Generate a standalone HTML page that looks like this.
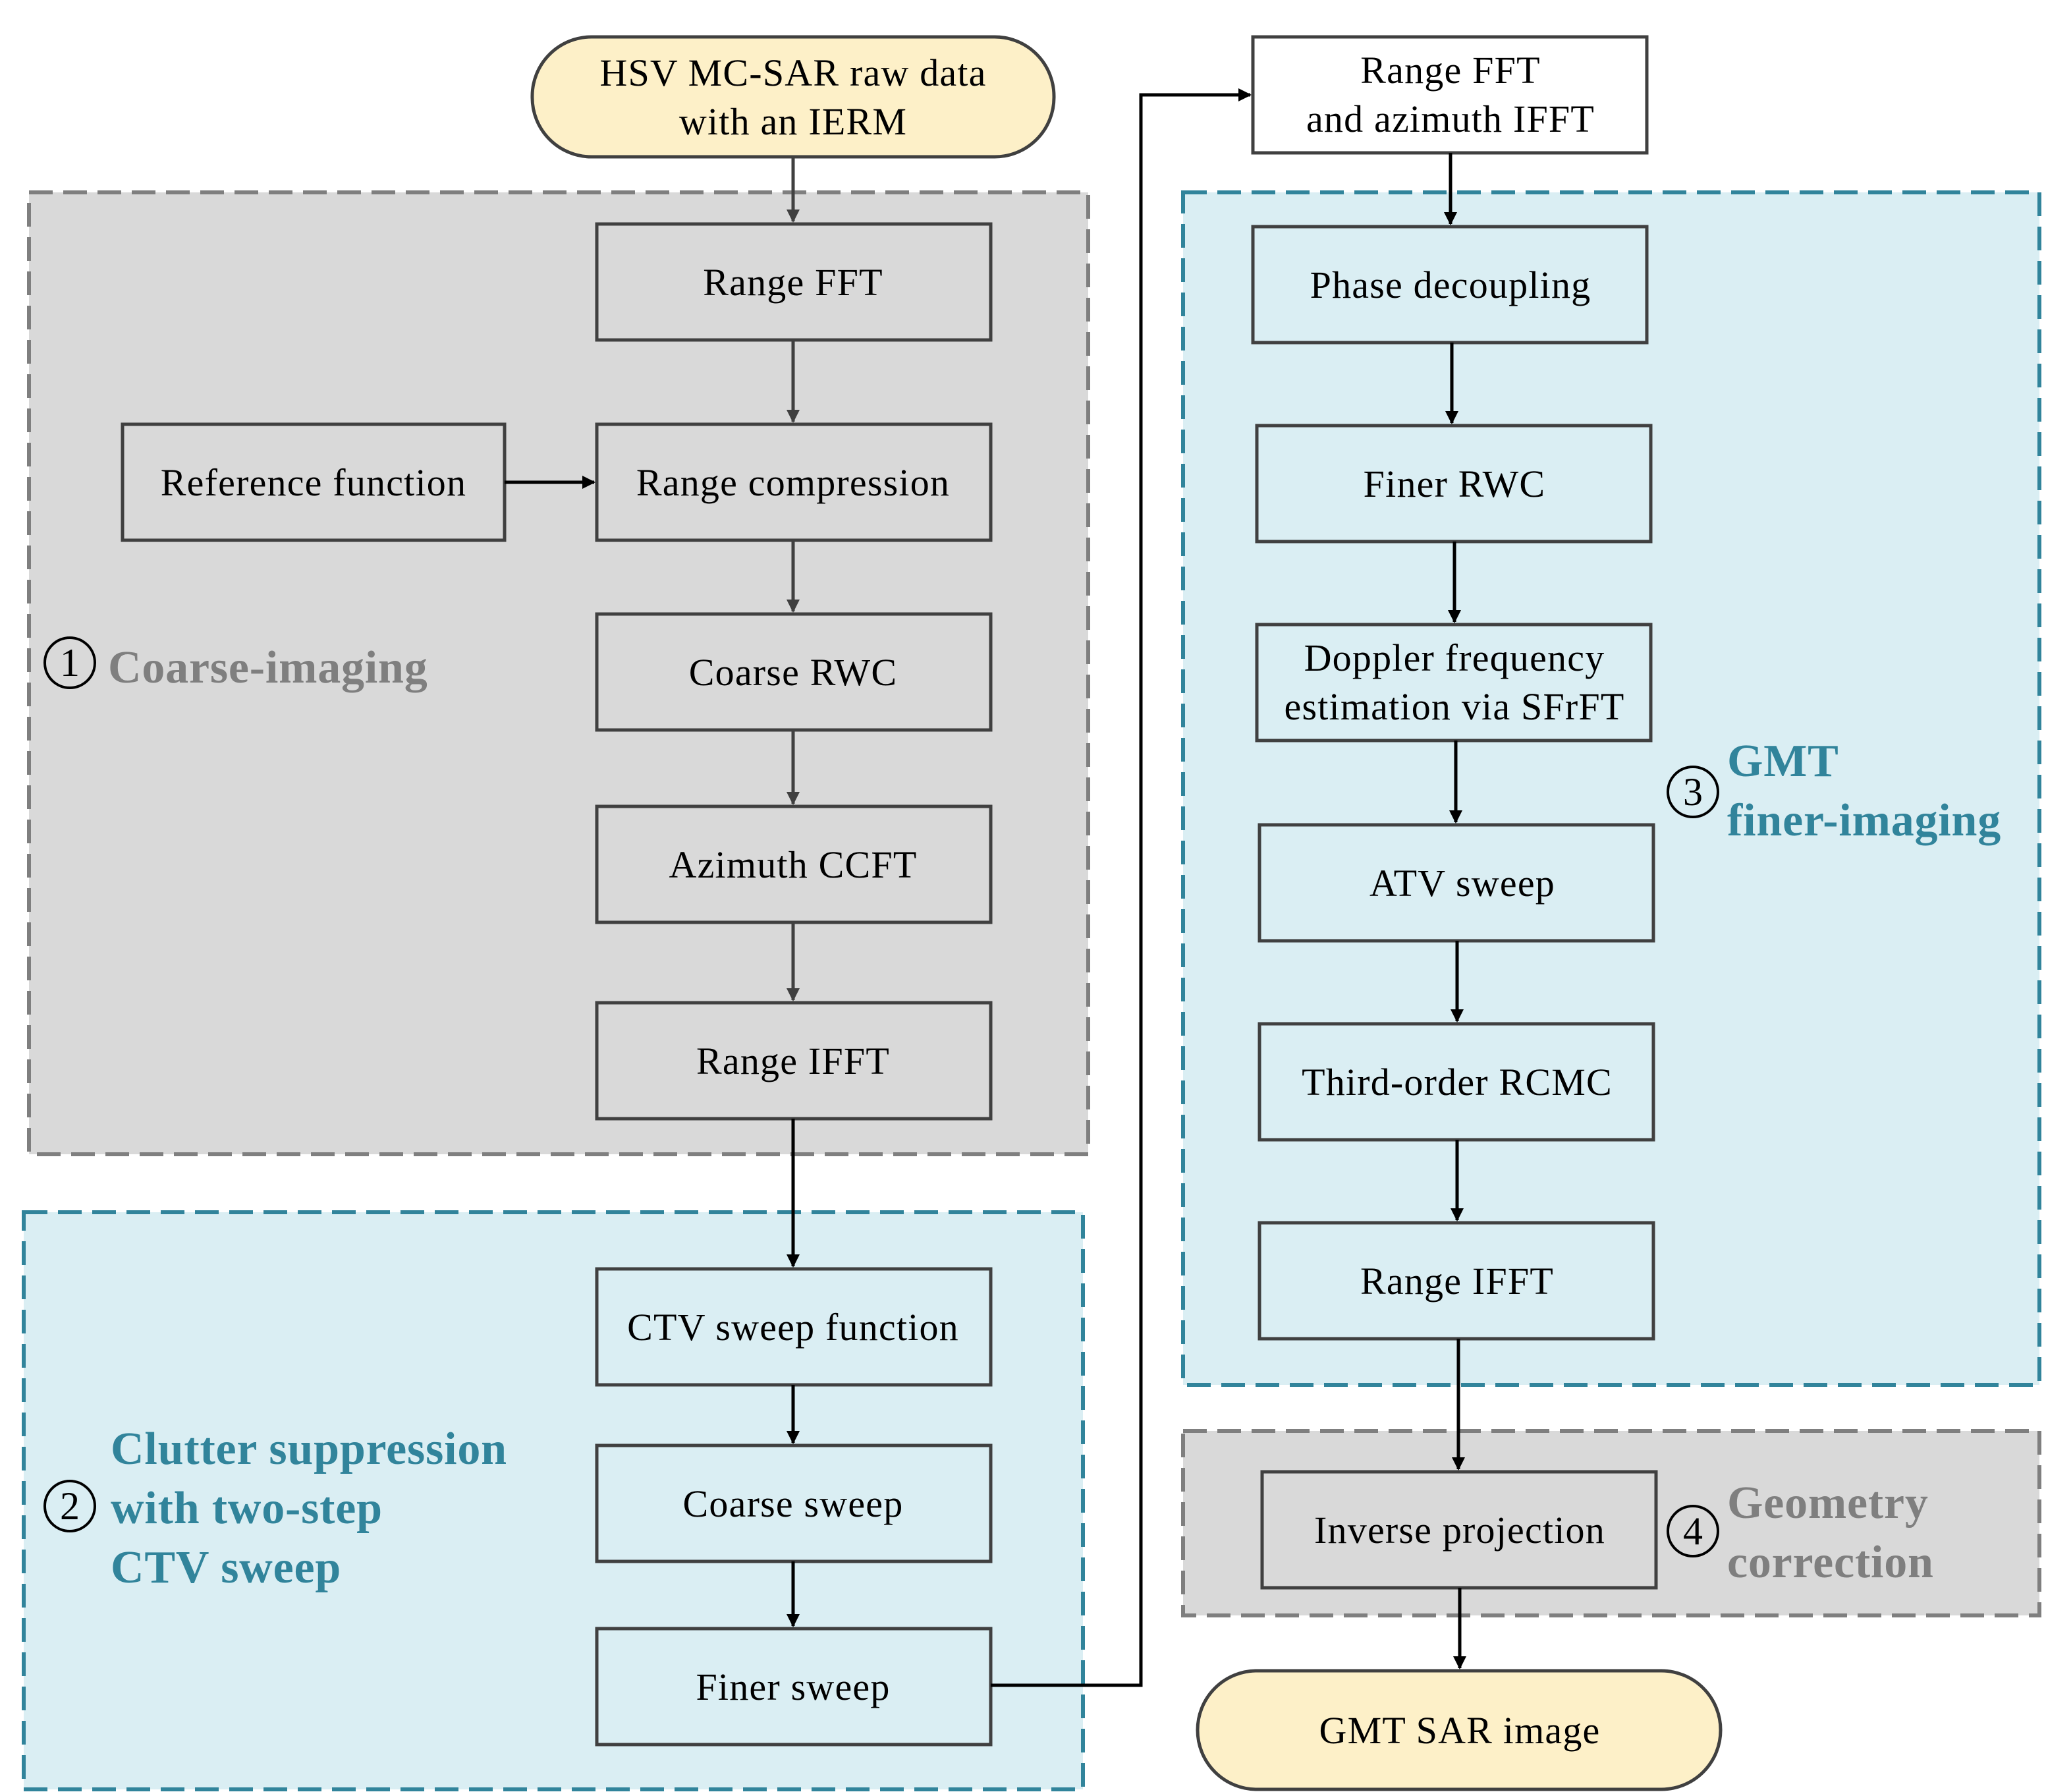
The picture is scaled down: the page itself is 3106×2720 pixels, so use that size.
<!DOCTYPE html>
<html><head><meta charset="utf-8"><style>
html,body{margin:0;padding:0;background:#fff}
svg{display:block}
text{font-family:"Liberation Serif",serif}
</style></head><body>
<svg width="3106" height="2720" viewBox="0 0 1553 1360" xmlns="http://www.w3.org/2000/svg">
<defs>
<marker id="a" markerWidth="10" markerHeight="10" refX="9" refY="5" orient="auto" markerUnits="userSpaceOnUse" viewBox="0 0 10 10"><path d="M0,0 L10,5 L0,10 z" fill="#000"/></marker>
<marker id="g" markerWidth="10" markerHeight="10" refX="9" refY="5" orient="auto" markerUnits="userSpaceOnUse" viewBox="0 0 10 10"><path d="M0,0 L10,5 L0,10 z" fill="#404040"/></marker>
</defs>
<g stroke-width="3" stroke-dasharray="18,8">
<rect x="22" y="146" width="804" height="730" fill="#d9d9d9" stroke="#7f7f7f"/>
<rect x="18" y="920" width="804" height="438" fill="#daeef3" stroke="#31849b"/>
<rect x="898" y="146" width="650" height="905" fill="#daeef3" stroke="#31849b"/>
<rect x="898" y="1086" width="650" height="140" fill="#d9d9d9" stroke="#7f7f7f"/>
</g>
<g stroke="#404040" stroke-width="2.5">
<rect x="404" y="28" width="396" height="91" rx="45" fill="#fdf0c8"/>
<rect x="909" y="1268" width="397" height="90" rx="45" fill="#fdf0c8"/>
<g fill="#d9d9d9">
<rect x="453" y="170" width="299" height="88"/>
<rect x="453" y="322" width="299" height="88"/>
<rect x="93" y="322" width="290" height="88"/>
<rect x="453" y="466" width="299" height="88"/>
<rect x="453" y="612" width="299" height="88"/>
<rect x="453" y="761" width="299" height="88"/>
<rect x="958" y="1117" width="299" height="88"/>
</g>
<g fill="#daeef3">
<rect x="453" y="963" width="299" height="88"/>
<rect x="453" y="1097" width="299" height="88"/>
<rect x="453" y="1236" width="299" height="88"/>
<rect x="951" y="172" width="299" height="88"/>
<rect x="954" y="323" width="299" height="88"/>
<rect x="954" y="474" width="299" height="88"/>
<rect x="956" y="626" width="299" height="88"/>
<rect x="956" y="777" width="299" height="88"/>
<rect x="956" y="928" width="299" height="88"/>
</g>
<rect x="951" y="28" width="299" height="88" fill="#fff"/>
</g>
<g stroke="#404040" stroke-width="2.5" fill="none" marker-end="url(#g)">
<path d="M602,119 V168"/><path d="M602,258 V320"/><path d="M602,410 V464"/><path d="M602,554 V610"/><path d="M602,700 V759"/>
</g>
<g stroke="#000" stroke-width="2.5" fill="none" marker-end="url(#a)">
<path d="M383,366 H451"/>
<path d="M602,849 V961"/><path d="M602,1051 V1095"/><path d="M602,1185 V1234"/>
<path d="M752,1279 H866 V72 H949"/>
<path d="M1101,116 V170"/><path d="M1102,260 V321"/><path d="M1104,411 V472"/><path d="M1105,562 V624"/><path d="M1106,714 V775"/><path d="M1106,865 V926"/><path d="M1107,1016 V1115"/><path d="M1108,1205 V1266"/>
</g>
<g font-size="29" text-anchor="middle" fill="#000" letter-spacing="0.6">
<text x="602" y="65">HSV MC-SAR raw data</text><text x="602" y="102">with an IERM</text>
<text x="602" y="224">Range FFT</text>
<text x="602" y="376">Range compression</text>
<text x="238" y="376">Reference function</text>
<text x="602" y="520">Coarse RWC</text>
<text x="602" y="666">Azimuth CCFT</text>
<text x="602" y="815">Range IFFT</text>
<text x="602" y="1017">CTV sweep function</text>
<text x="602" y="1151">Coarse sweep</text>
<text x="602" y="1290">Finer sweep</text>
<text x="1101" y="63">Range FFT</text><text x="1101" y="100">and azimuth IFFT</text>
<text x="1101" y="226">Phase decoupling</text>
<text x="1104" y="377">Finer RWC</text>
<text x="1104" y="509">Doppler frequency</text><text x="1104" y="546">estimation via SFrFT</text>
<text x="1110" y="680">ATV sweep</text>
<text x="1106" y="831">Third-order RCMC</text>
<text x="1106" y="982">Range IFFT</text>
<text x="1108" y="1171">Inverse projection</text>
<text x="1108" y="1323">GMT SAR image</text>
</g>
<g stroke="#000" stroke-width="2" fill="none">
<circle cx="53" cy="503" r="19"/><circle cx="53" cy="1143" r="19"/><circle cx="1285" cy="601" r="19"/><circle cx="1285" cy="1162" r="19"/>
</g>
<g font-size="30" text-anchor="middle">
<text x="53" y="513">1</text><text x="53" y="1153">2</text><text x="1285" y="611">3</text><text x="1285" y="1172">4</text>
</g>
<g font-size="35" font-weight="bold" letter-spacing="0.4">
<text x="82" y="518" fill="#7f7f7f">Coarse-imaging</text>
<text x="84" y="1111" fill="#31849b">Clutter suppression</text>
<text x="84" y="1156" fill="#31849b">with two-step</text>
<text x="84" y="1201" fill="#31849b">CTV sweep</text>
<text x="1311" y="589" fill="#31849b">GMT</text>
<text x="1311" y="634" fill="#31849b">finer-imaging</text>
<text x="1311" y="1152" fill="#7f7f7f">Geometry</text>
<text x="1311" y="1197" fill="#7f7f7f">correction</text>
</g>
</svg>
</body></html>
